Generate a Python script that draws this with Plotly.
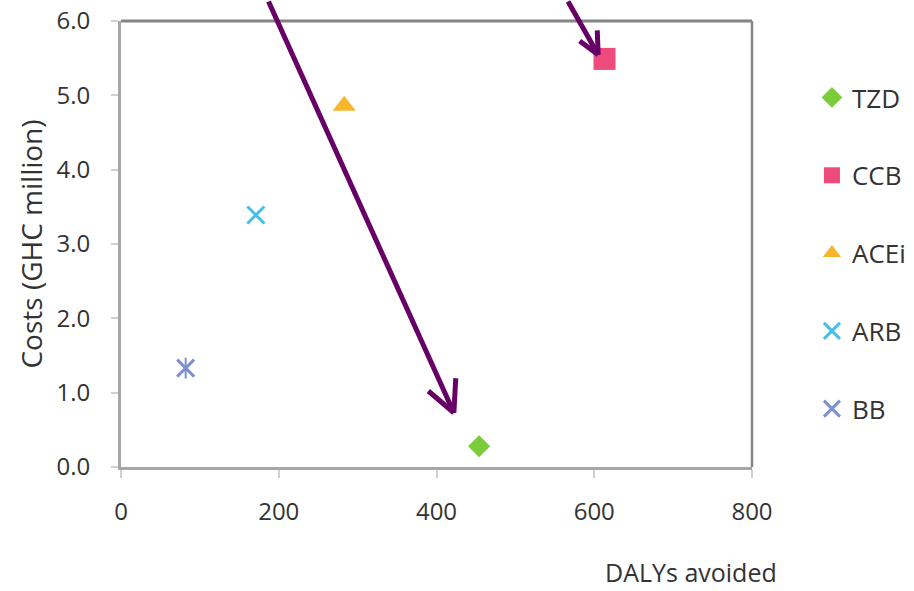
import plotly.graph_objects as go

# Cost-effectiveness of antihypertensive drug classes
drugs = ["TZD", "CCB", "ACEi", "ARB", "BB"]
dalys_avoided = [454, 613, 283, 171, 82]
costs_ghc_million = [0.28, 5.49, 4.86, 3.39, 1.33]

colors = ["#7ACC3A", "#EC4B7C", "#F8B62B", "#45BFE6", "#7E90CF"]
symbols = ["diamond", "square", "triangle-up", "x-thin-open", "x-thin-open"]
sizes = [17, 22, 20, 17, 17]

x_ticks = [0, 200, 400, 600, 800]
y_ticks = [0, 1, 2, 3, 4, 5, 6]

FONT = "Open Sans, DejaVu Sans, sans-serif"

fig = go.Figure()

for name, xv, yv, col, sym, sz in zip(drugs, dalys_avoided, costs_ghc_million,
                                       colors, symbols, sizes):
    open_sym = sym.endswith("-open")
    fig.add_trace(go.Scatter(
        x=[xv], y=[yv], mode="markers", name=name, legendgroup=name,
        marker=dict(symbol=sym, size=sz, color=col,
                    line=dict(color=col, width=3 if open_sym else 0)),
        cliponaxis=False,
    ))
    if name == "BB":
        # vertical stroke turns the cross into a star
        fig.add_trace(go.Scatter(
            x=[xv], y=[yv], mode="markers", showlegend=False, legendgroup=name,
            marker=dict(symbol="line-ns-open", size=15, color=col,
                        line=dict(color=col, width=2)),
        ))

purple = "#660066"

# Arrow 1 pointing towards TZD, arrow 2 towards CCB (tip in data units, tail/arm offsets in px)
arrow_tips = [(422, 0.73), (605, 5.545)]
arrow_tails = [(-186, -420), (-31, -62)]
arrow_arms = [[(-27, -23), (2, -36)], [(-20, -15), (-1, -26)]]

for (tx, ty), tail, arms in zip(arrow_tips, arrow_tails, arrow_arms):
    for ax, ay in [tail] + arms:
        fig.add_annotation(x=tx, y=ty, xref="x", yref="y", ax=ax, ay=ay,
                           axref="pixel", ayref="pixel", text="",
                           showarrow=True, arrowhead=0, arrowwidth=5,
                           arrowcolor=purple, standoff=0, startstandoff=0)

fig.add_annotation(x=0.764, y=-0.236, xref="paper", yref="paper",
                   text="DALYs avoided", showarrow=False,
                   xanchor="left", yanchor="middle",
                   font=dict(family=FONT, size=25, color="#333333"))

# top and right frame lines
frame = "#858585"
fig.add_shape(type="line", xref="paper", yref="paper", x0=0, x1=1, y0=1, y1=1,
              line=dict(color=frame, width=3))
fig.add_shape(type="line", xref="paper", yref="paper", x0=1, x1=1, y0=0, y1=1,
              line=dict(color=frame, width=2.5))

axis_font = dict(family=FONT, size=24, color="#333333")

fig.update_xaxes(range=[0, 800], tickvals=x_ticks, ticktext=[str(v) for v in x_ticks],
                 showgrid=False, zeroline=False, showline=True,
                 linecolor="#A6A6A6", linewidth=3,
                 ticks="outside", ticklen=8, tickwidth=2, tickcolor="#D0D0D0",
                 tickfont=axis_font, ticklabelstandoff=13, automargin=False)
fig.update_yaxes(range=[0, 6], tickvals=y_ticks, ticktext=[f"{v:.1f}" for v in y_ticks],
                 showgrid=False, zeroline=False, showline=True,
                 linecolor="#A6A6A6", linewidth=3,
                 ticks="outside", ticklen=7, tickwidth=2, tickcolor="#D0D0D0",
                 tickfont=axis_font, ticklabelstandoff=16, automargin=False,
                 title=dict(text="Costs (GHC million)", standoff=6,
                            font=dict(family=FONT, size=28, color="#333333")))

fig.update_layout(
    width=914, height=591,
    margin=dict(l=121, r=162, t=21, b=124, autoexpand=False),
    paper_bgcolor="white", plot_bgcolor="white",
    font=dict(family=FONT),
    legend=dict(x=1.095, y=0.881, xanchor="left", yanchor="top",
                tracegroupgap=41, itemwidth=30,
                font=dict(family=FONT, size=26, color="#333333"),
                bgcolor="rgba(0,0,0,0)"),
)

fig.write_html("out.html")
